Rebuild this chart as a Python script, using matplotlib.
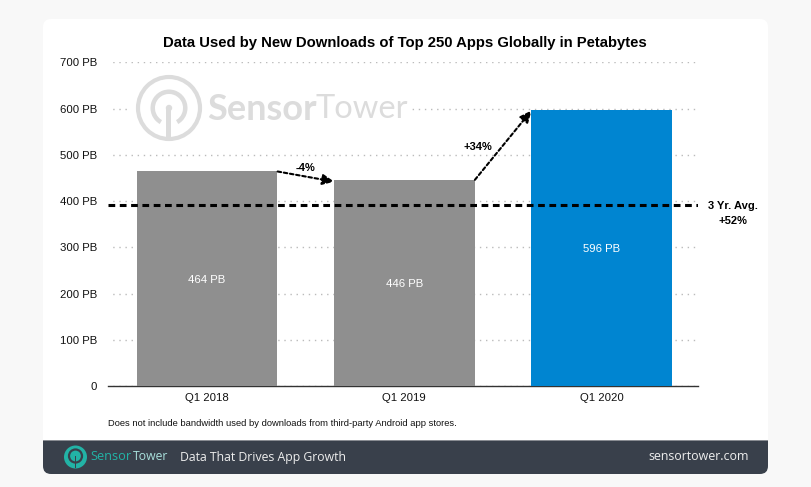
import numpy as np
import matplotlib
matplotlib.use("Agg")
import matplotlib.pyplot as plt
from matplotlib.patches import FancyBboxPatch, Rectangle, Circle, Wedge

# Data
quarters = ["Q1 2018", "Q1 2019", "Q1 2020"]
petabytes = [464, 446, 596]
bar_colors = ["#8f8f8f", "#8f8f8f", "#0085d1"]
y_ticks = [0, 100, 200, 300, 400, 500, 600, 700]
y_labels = ["0", "100 PB", "200 PB", "300 PB", "400 PB", "500 PB", "600 PB", "700 PB"]
avg_value = 391

W, H = 812, 487
plt.rcParams["font.family"] = ["Liberation Sans", "DejaVu Sans"]

fig = plt.figure(figsize=(W / 100, H / 100), dpi=100, facecolor="#f8f8f8")

# background card and footer, in pixel coords
bg = fig.add_axes([0, 0, 1, 1], zorder=0)
bg.set_xlim(0, W)
bg.set_ylim(H, 0)
bg.axis("off")
bg.add_patch(FancyBboxPatch((46, 22), 719, 449, boxstyle="round,pad=0,rounding_size=7",
                            fc="#f0f0f0", ec="#f0f0f0", lw=4))
bg.add_patch(FancyBboxPatch((43, 19), 725, 455, boxstyle="round,pad=0,rounding_size=8",
                            fc="white", ec="none"))
bg.add_patch(FancyBboxPatch((43, 420), 725, 54, boxstyle="round,pad=0,rounding_size=8",
                            fc="#39404b", ec="none"))
bg.add_patch(Rectangle((43, 418), 725, 22, fc="white", ec="none"))
bg.add_patch(Rectangle((43, 440), 725, 1.2, fc="#8a8d93", ec="none"))

# plot
ax = fig.add_axes([108 / W, (H - 386) / H, 590 / W, 323.6 / H], zorder=1)
ax.patch.set_alpha(0)
x = np.arange(len(quarters))
ax.set_xlim(-0.502, 2.489)
ax.set_ylim(0, 700)
ax.yaxis.grid(True, color="#bbbbbb", linestyle=(1, (1, 3.4)), linewidth=1)
ax.set_axisbelow(True)
bars = ax.bar(x, petabytes, width=0.712, color=bar_colors, zorder=3)
for b, v in zip(bars, petabytes):
    ax.text(b.get_x() + b.get_width() / 2, v / 2 - 2, f"{v} PB",
            color="white", ha="center", va="center", fontsize=8.2, zorder=5)
ax.set_xticks(x, quarters)
ax.set_yticks(y_ticks, y_labels)
ax.tick_params(length=0, labelsize=8.2, colors="#111111")
ax.tick_params(axis="x", pad=5)
ax.tick_params(axis="y", pad=8)
for s in ["top", "right", "left"]:
    ax.spines[s].set_visible(False)
ax.spines["bottom"].set_color("#333333")
ax.spines["bottom"].set_linewidth(1)

ax.axhline(avg_value, color="black", linestyle=(0, (2.2, 1.5)), linewidth=2.2, zorder=4)

# change arrows
arrow = dict(arrowstyle="-|>,head_length=0.7,head_width=0.32", color="black", lw=1.5,
             linestyle=(0, (1.7, 1.3)), shrinkA=0, shrinkB=0)
ax.annotate("", xy=(0.645, 442), xytext=(0.358, 464), arrowprops=arrow, zorder=6)
ax.annotate("", xy=(1.645, 596), xytext=(1.358, 446), arrowprops=arrow, zorder=6)

# watermark, white box hides the gridline behind it
wm = fig.add_axes([0, 0, 1, 1], zorder=2)
wm.set_xlim(0, W)
wm.set_ylim(H, 0)
wm.axis("off")
wm.patch.set_alpha(0)
wm.add_patch(Rectangle((131, 74), 279, 70, fc="white", ec="none"))
wm_c = "#dcdcdc"
wm.add_patch(Circle((169, 108), 31, fc="none", ec=wm_c, lw=3))
wm.add_patch(Wedge((169, 108), 18.5, 120, 60, width=4.5, fc=wm_c, ec="none"))
wm.add_patch(Rectangle((166.5, 108), 5, 31, fc=wm_c, ec="none"))
wm.add_patch(Circle((169, 108), 3.2, fc=wm_c, ec="none"))
wm.text(207, 109, "Sensor", color=wm_c, fontsize=26, fontweight="bold",
        family=["Lato", "DejaVu Sans"], ha="left", va="center")
wm.text(316, 109, "Tower", color=wm_c, fontsize=23.5,
        family=["Lato", "DejaVu Sans"], ha="left", va="center")

txt = fig.add_axes([0, 0, 1, 1], zorder=3)
txt.set_xlim(0, W)
txt.set_ylim(H, 0)
txt.axis("off")
txt.patch.set_alpha(0)
txt.text(404.5, 43, "Data Used by New Downloads of Top 250 Apps Globally in Petabytes",
         fontsize=10.7, fontweight="bold", color="black", ha="center", va="center")
txt.text(305.5, 168, "-4%", fontsize=8, fontweight="bold", ha="center", va="center")
txt.text(478, 146.5, "+34%", fontsize=8, fontweight="bold", ha="center", va="center")
txt.text(733, 206, "3 Yr. Avg.", fontsize=8, fontweight="bold", ha="center", va="center")
txt.text(733, 221.5, "+52%", fontsize=8, fontweight="bold", ha="center", va="center")
txt.text(108, 424, "Does not include bandwidth used by downloads from third-party Android app stores.",
         fontsize=6.75, color="#111111", ha="left", va="center")

# footer
teal = "#22b3a6"
txt.add_patch(Circle((75.5, 457), 11.5, fc=teal, ec="none"))
txt.add_patch(Circle((75.5, 456), 6.5, fc="none", ec="#39404b", lw=1.6))
txt.add_patch(Rectangle((74.6, 456), 1.8, 12, fc="#39404b", ec="none"))
footer_font = ["Open Sans", "DejaVu Sans"]
txt.text(90.5, 457, "Sensor", color=teal, fontsize=9.2, family=footer_font, ha="left", va="center")
txt.text(133, 457, "Tower", color="#a9e0dc", fontsize=8.8, family=footer_font, ha="left", va="center")
txt.text(180, 457, "Data That Drives App Growth", color="#eeeeee", fontsize=8.8,
         family=footer_font, ha="left", va="center")
txt.text(749, 457, "sensortower.com", color="#eeeeee", fontsize=8.9,
         family=footer_font, ha="right", va="center")

fig.savefig("out.png", dpi=100, facecolor=fig.get_facecolor())
